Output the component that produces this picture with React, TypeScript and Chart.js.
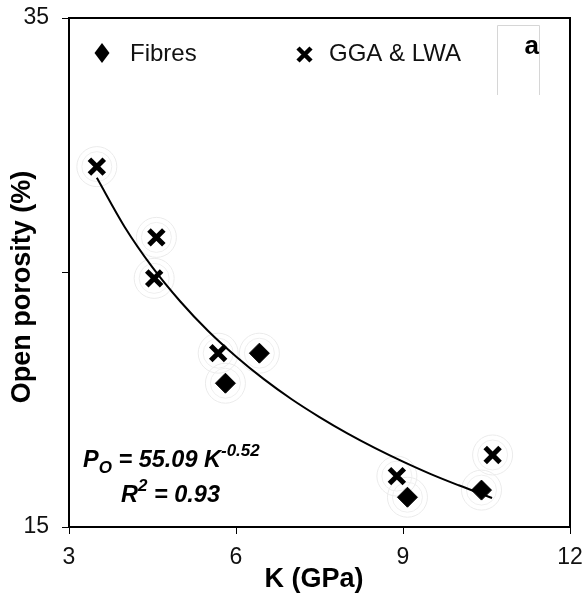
import React, { useEffect, useRef } from "react";
import { Chart, registerables } from "chart.js";

Chart.register(...registerables);

// Data
const fibresK = [6.42, 5.81, 9.08, 10.41];
const fibresP = [21.83, 20.65, 16.17, 16.45];
const ggaK = [3.5, 4.57, 4.53, 5.68, 8.89, 10.61];
const ggaP = [29.16, 26.38, 24.77, 21.83, 17.0, 17.83];
// Trend line (power fit shown on chart), sampled points
const trendK = [3.5, 4, 4.5, 5, 5.5, 6, 6.5, 7, 7.5, 8, 8.5, 9, 9.5, 10, 10.6];
const trendP = [28.72, 26.79, 25.2, 23.86, 22.7, 21.7, 20.81, 20.02, 19.32, 18.68, 18.1, 17.57, 17.08, 16.64, 16.14];
const xTicks = [3, 6, 9, 12];
const yTicks = [15, 25, 35];
const yTickLabels = ["15", "", "35"];

const FONT = "'Liberation Sans', Arial, sans-serif";

const zip = (a: number[], b: number[]) => a.map((x, i) => ({ x, y: b[i] }));

const overlay = {
  id: "overlay",
  afterDraw(chart: any) {
    const ctx = chart.ctx as CanvasRenderingContext2D;
    const a = chart.chartArea;
    ctx.save();
    // frame top & right
    ctx.strokeStyle = "#000";
    ctx.lineWidth = 2;
    ctx.beginPath();
    ctx.moveTo(a.left, a.top);
    ctx.lineTo(a.right, a.top);
    ctx.lineTo(a.right, a.bottom);
    ctx.stroke();

    // "a" panel box
    ctx.strokeStyle = "#d6d6d6";
    ctx.lineWidth = 1;
    ctx.beginPath();
    ctx.moveTo(497.5, 95);
    ctx.lineTo(497.5, 25.5);
    ctx.lineTo(539.5, 25.5);
    ctx.lineTo(539.5, 95);
    ctx.stroke();
    ctx.fillStyle = "#000";
    ctx.font = `bold 26px ${FONT}`;
    ctx.textAlign = "right";
    ctx.textBaseline = "alphabetic";
    ctx.fillText("a", 539, 54);

    // legend
    ctx.fillStyle = "#000";
    ctx.beginPath();
    ctx.moveTo(102, 43);
    ctx.lineTo(109.5, 53);
    ctx.lineTo(102, 63);
    ctx.lineTo(94.5, 53);
    ctx.closePath();
    ctx.fill();
    ctx.font = `24px ${FONT}`;
    ctx.textAlign = "left";
    ctx.textBaseline = "middle";
    ctx.fillStyle = "#111";
    ctx.fillText("Fibres", 130, 54);
    ctx.strokeStyle = "#000";
    ctx.lineWidth = 4.5;
    ctx.beginPath();
    ctx.moveTo(298, 48);
    ctx.lineTo(311, 61);
    ctx.moveTo(311, 48);
    ctx.lineTo(298, 61);
    ctx.stroke();
    ctx.fillText("GGA & LWA", 329, 54);

    // axis titles
    ctx.fillStyle = "#000";
    ctx.font = `bold 27px ${FONT}`;
    ctx.textAlign = "center";
    ctx.textBaseline = "middle";
    ctx.fillText("K (GPa)", 314, 580);
    ctx.save();
    ctx.translate(23, 287);
    ctx.rotate(-Math.PI / 2);
    ctx.fillText("Open porosity (%)", 0, 0);
    ctx.restore();

    // equation
    ctx.textAlign = "left";
    ctx.textBaseline = "alphabetic";
    let x = 83;
    const big = `italic bold 23.5px ${FONT}`;
    const small = `italic bold 17px ${FONT}`;
    ctx.font = big;
    ctx.fillText("P", x, 467);
    x += ctx.measureText("P").width;
    ctx.font = small;
    ctx.fillText("O", x, 473);
    x += ctx.measureText("O").width;
    ctx.font = big;
    const mid = " = 55.09 K";
    ctx.fillText(mid, x, 467);
    x += ctx.measureText(mid).width;
    ctx.font = small;
    ctx.fillText("-0.52", x, 456);

    x = 121;
    ctx.font = big;
    ctx.fillText("R", x, 502);
    x += ctx.measureText("R").width;
    ctx.font = small;
    ctx.fillText("2", x, 491);
    x += ctx.measureText("2").width;
    ctx.font = big;
    ctx.fillText(" = 0.93", x, 502);
    ctx.restore();
  },
};

export default function App() {
  const ref = useRef<HTMLCanvasElement>(null);
  useEffect(() => {
    document.body.style.margin = "0";
    const allPts = [...zip(fibresK, fibresP), ...zip(ggaK, ggaP)];
    const chart = new Chart(ref.current!, {
      type: "scatter",
      data: {
        datasets: [
          {
            label: "Fibres",
            data: zip(fibresK, fibresP),
            pointStyle: "rectRot",
            pointRadius: 10,
            backgroundColor: "#000",
            borderColor: "#000",
            borderWidth: 1,
          },
          {
            label: "GGA & LWA",
            data: zip(ggaK, ggaP),
            pointStyle: "crossRot",
            pointRadius: 10.5,
            borderColor: "#000",
            borderWidth: 5,
          },
          {
            label: "trend",
            data: zip(trendK, trendP),
            showLine: true,
            pointRadius: 0,
            borderColor: "#000",
            borderWidth: 2,
            cubicInterpolationMode: "monotone",
          } as any,
          {
            label: "halo1",
            data: allPts,
            pointStyle: "circle",
            pointRadius: 20,
            backgroundColor: "rgba(0,0,0,0)",
            borderColor: "#ebebeb",
            borderWidth: 1,
          },
          {
            label: "halo2",
            data: allPts,
            pointStyle: "circle",
            pointRadius: 15,
            backgroundColor: "rgba(0,0,0,0)",
            borderColor: "#efefef",
            borderWidth: 1,
          },
        ],
      },
      options: {
        animation: false,
        responsive: false,
        devicePixelRatio: 1,
        layout: { autoPadding: false, padding: { left: 0, top: 18, right: 15, bottom: 0 } } as any,
        plugins: { legend: { display: false }, tooltip: { enabled: false } },
        events: [],
        scales: {
          x: {
            type: "linear",
            min: 3,
            max: 12,
            afterBuildTicks: (s: any) => {
              s.ticks = xTicks.map((v) => ({ value: v }));
            },
            afterFit: (s: any) => {
              s.height = 70;
              s.paddingLeft = 0;
              s.paddingRight = 0;
            },
            ticks: {
              font: { family: FONT, size: 23 },
              color: "#111",
              padding: 10,
              maxRotation: 0,
            },
            grid: { drawOnChartArea: false, tickLength: 7, color: "#000", lineWidth: 1 },
            border: { color: "#000", width: 2 },
          },
          y: {
            type: "linear",
            min: 15,
            max: 35,
            afterBuildTicks: (s: any) => {
              s.ticks = yTicks.map((v) => ({ value: v }));
            },
            afterFit: (s: any) => {
              s.width = 69;
              s.paddingTop = 0;
              s.paddingBottom = 0;
            },
            ticks: {
              font: { family: FONT, size: 23 },
              color: "#111",
              padding: 13,
              callback: (v: any) => {
                const i = yTicks.indexOf(Number(v));
                return i >= 0 ? yTickLabels[i] : "";
              },
            },
            grid: { drawOnChartArea: false, tickLength: 7, color: "#000", lineWidth: 1 },
            border: { color: "#000", width: 2 },
          },
        },
      },
      plugins: [overlay],
    });
    return () => chart.destroy();
  }, []);
  return (
    <div style={{ width: 585, height: 597 }}>
      <canvas ref={ref} width={585} height={597} style={{ display: "block" }} />
    </div>
  );
}
